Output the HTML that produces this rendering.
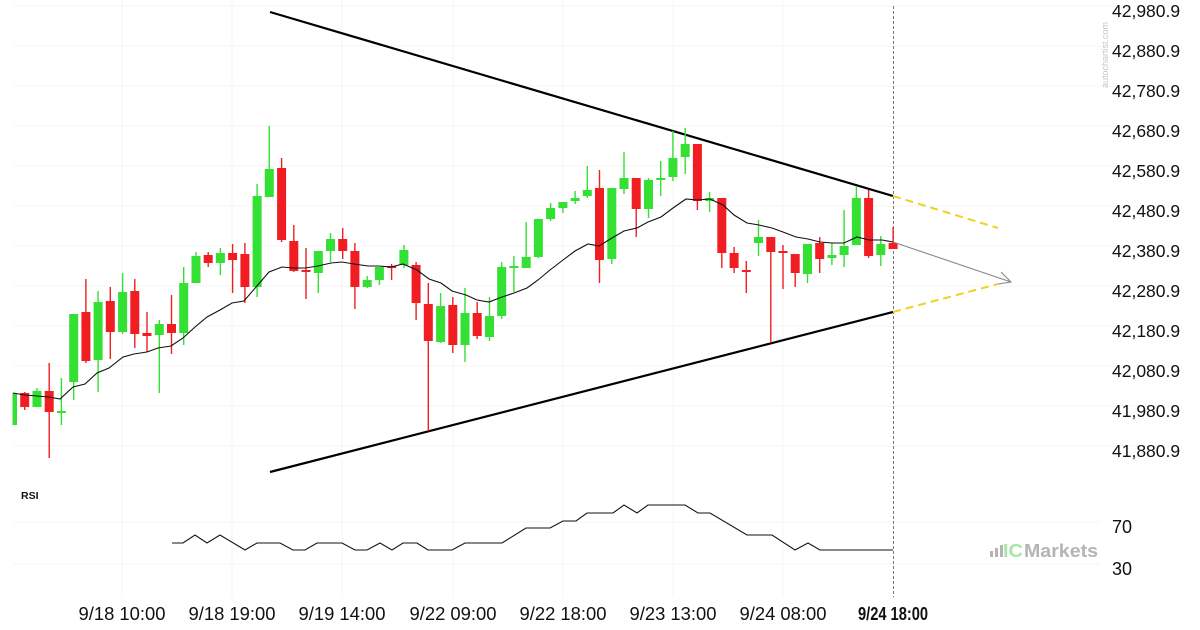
<!DOCTYPE html>
<html><head><meta charset="utf-8"><style>
html,body{margin:0;padding:0;background:#fff;}
svg{display:block;}
text{font-family:"Liberation Sans",Arial,sans-serif;}
</style></head><body>
<svg width="1200" height="630" viewBox="0 0 1200 630" xmlns="http://www.w3.org/2000/svg">
<defs><clipPath id="c"><rect x="12.5" y="0" width="1000" height="600"/></clipPath></defs>
<rect width="1200" height="630" fill="#fff"/>
<g stroke="#f4f4f4" stroke-width="1">
<path d="M13 6H1182M13 46H1182M13 86H1182M13 126H1182M13 166H1182M13 206H1182M13 246H1182M13 286H1182M13 326H1182M13 366H1182M13 406H1182M13 446H1182"/>
<path d="M13 522H1100M13 564H1100"/>
<path d="M122 0V597M232 0V597M342 0V597M453 0V597M563 0V597M673 0V597M783 0V597"/>
</g>
<g font-size="17.5" fill="#111">
<text x="1112" y="17">42,980.9</text>
<text x="1112" y="57">42,880.9</text>
<text x="1112" y="97">42,780.9</text>
<text x="1112" y="137">42,680.9</text>
<text x="1112" y="177">42,580.9</text>
<text x="1112" y="217">42,480.9</text>
<text x="1112" y="257">42,380.9</text>
<text x="1112" y="297">42,280.9</text>
<text x="1112" y="337">42,180.9</text>
<text x="1112" y="377">42,080.9</text>
<text x="1112" y="417">41,980.9</text>
<text x="1112" y="457">41,880.9</text>
</g>
<text transform="translate(1108,88) rotate(-90)" font-size="9.5" fill="#c6c6c6" textLength="66" lengthAdjust="spacingAndGlyphs">autochartist.com</text>
<g font-size="18.4" fill="#111" text-anchor="middle">
<text x="122" y="620" textLength="87" lengthAdjust="spacingAndGlyphs">9/18 10:00</text>
<text x="232" y="620" textLength="87" lengthAdjust="spacingAndGlyphs">9/18 19:00</text>
<text x="342" y="620" textLength="87" lengthAdjust="spacingAndGlyphs">9/19 14:00</text>
<text x="453" y="620" textLength="87" lengthAdjust="spacingAndGlyphs">9/22 09:00</text>
<text x="563" y="620" textLength="87" lengthAdjust="spacingAndGlyphs">9/22 18:00</text>
<text x="673" y="620" textLength="87" lengthAdjust="spacingAndGlyphs">9/23 13:00</text>
<text x="783" y="620" textLength="87" lengthAdjust="spacingAndGlyphs">9/24 08:00</text>
<text x="893" y="620" font-weight="bold" textLength="70" lengthAdjust="spacingAndGlyphs">9/24 18:00</text>
</g>
<text x="21" y="499" font-size="10.5" font-weight="bold" fill="#111">RSI</text>
<text x="1112" y="533" font-size="18" fill="#111">70</text>
<text x="1112" y="575" font-size="18" fill="#111">30</text>
<g fill="#b4b4b4">
<rect x="990" y="551" width="3" height="6"/>
<rect x="995" y="548" width="3" height="9"/>
<rect x="1000" y="545" width="3" height="12"/>
</g>
<text x="1003" y="557" font-size="18" font-weight="bold" fill="#a8e6a8" textLength="20" lengthAdjust="spacingAndGlyphs">IC</text>
<text x="1024" y="557" font-size="18" font-weight="bold" fill="#b4b4b4" textLength="74" lengthAdjust="spacingAndGlyphs">Markets</text>
<path d="M893.5 6V597" stroke="#777" stroke-width="1" stroke-dasharray="3,2"/>
<g clip-path="url(#c)">
<path d="M270 12L893 196" stroke="#000" stroke-width="2.2" fill="none"/>
<path d="M270 472L893 312" stroke="#000" stroke-width="2.2" fill="none"/>
<path d="M893 196L998 228M893 312L998 284" stroke="#f2d21b" stroke-width="2" stroke-dasharray="8,5" fill="none"/>
<g fill="#33e033" stroke="#33e033">
<path fill="none" stroke-width="1.4" d="M12.5 393V425M37 388V407M61.4 378V425M73.7 314V400M98.1 291V392M122.6 273V334M159.3 320V393M183.7 267V345M196 252V283M220.4 248V275M257.1 184V297M269.3 126V197M318.3 251V293M330.5 233V262M367.2 276V288M379.4 267V285M403.9 245V268M440.6 293V343M465 288V362M489.5 297V341M501.7 262V319M513.9 256V292M526.2 222V268M538.4 219V258M550.6 203V221M562.9 202V213M575.1 191V204M587.3 166V198M611.8 188V264M624 152V194M648.5 178V218M660.7 161V196M672.9 131V181M685.2 128V174M709.6 192V212M758.5 220V256M807.5 244V283M831.9 243V265M844.1 210V267M856.4 186V245M880.8 236V266"/>
<g stroke="none">
<rect x="8" y="393" width="9" height="32"/>
<rect x="32.5" y="391" width="9" height="16"/>
<rect x="56.9" y="411" width="9" height="2"/>
<rect x="69.2" y="314" width="9" height="68"/>
<rect x="93.6" y="302" width="9" height="58"/>
<rect x="118.1" y="292" width="9" height="40"/>
<rect x="154.8" y="324" width="9" height="11"/>
<rect x="179.2" y="283" width="9" height="50"/>
<rect x="191.5" y="256" width="9" height="27"/>
<rect x="215.9" y="253" width="9" height="10"/>
<rect x="252.6" y="196" width="9" height="91"/>
<rect x="264.8" y="169" width="9" height="28"/>
<rect x="313.8" y="251" width="9" height="22"/>
<rect x="326" y="239" width="9" height="12"/>
<rect x="362.7" y="280" width="9" height="7"/>
<rect x="374.9" y="267" width="9" height="13"/>
<rect x="399.4" y="250" width="9" height="15"/>
<rect x="436.1" y="306" width="9" height="36"/>
<rect x="460.5" y="313" width="9" height="32"/>
<rect x="485" y="316" width="9" height="21"/>
<rect x="497.2" y="267" width="9" height="49"/>
<rect x="509.4" y="266" width="9" height="2"/>
<rect x="521.7" y="257" width="9" height="11"/>
<rect x="533.9" y="219" width="9" height="38"/>
<rect x="546.1" y="208" width="9" height="11"/>
<rect x="558.4" y="202" width="9" height="6"/>
<rect x="570.6" y="198" width="9" height="3"/>
<rect x="582.8" y="190" width="9" height="6"/>
<rect x="607.3" y="188" width="9" height="71"/>
<rect x="619.5" y="178" width="9" height="11"/>
<rect x="644" y="180" width="9" height="29"/>
<rect x="656.2" y="178" width="9" height="2"/>
<rect x="668.4" y="158" width="9" height="19"/>
<rect x="680.7" y="144" width="9" height="13"/>
<rect x="705.1" y="198" width="9" height="3"/>
<rect x="754" y="237" width="9" height="6"/>
<rect x="803" y="244" width="9" height="30"/>
<rect x="827.4" y="255" width="9" height="3"/>
<rect x="839.6" y="246" width="9" height="9"/>
<rect x="851.9" y="198" width="9" height="47"/>
<rect x="876.3" y="244" width="9" height="11"/>
</g>
</g>
<g fill="#f01e23" stroke="#f01e23">
<path fill="none" stroke-width="1.4" d="M24.7 392V410M49.2 363V458M85.9 279V363M110.3 287V359M134.8 279V348M147 312V352M171.5 295V354M208.2 252V267M232.6 244V293M244.9 243V303M281.6 158V242M293.8 225V272M306 248V299M342.7 228V259M354.9 243V309M391.6 264V280M416.1 262V320M428.3 283V431M452.8 297V353M477.2 302V339M599.5 170V283M636.2 178V237M697.4 144V210M721.8 198V268M734.1 247V273M746.3 261V293M770.8 237V343M783 245V289M795.2 254V287M819.7 237V273M868.6 190V258M893.1 227V249"/>
<g stroke="none">
<rect x="20.2" y="393" width="9" height="14"/>
<rect x="44.7" y="391" width="9" height="21"/>
<rect x="81.4" y="312" width="9" height="49"/>
<rect x="105.8" y="301" width="9" height="31"/>
<rect x="130.3" y="291" width="9" height="43"/>
<rect x="142.5" y="333" width="9" height="3"/>
<rect x="167" y="324" width="9" height="9"/>
<rect x="203.7" y="255" width="9" height="8"/>
<rect x="228.1" y="253" width="9" height="7"/>
<rect x="240.4" y="254" width="9" height="33"/>
<rect x="277.1" y="168" width="9" height="72"/>
<rect x="289.3" y="241" width="9" height="30"/>
<rect x="301.5" y="270" width="9" height="2"/>
<rect x="338.2" y="239" width="9" height="12"/>
<rect x="350.4" y="251" width="9" height="36"/>
<rect x="387.1" y="266" width="9" height="2"/>
<rect x="411.6" y="265" width="9" height="38"/>
<rect x="423.8" y="304" width="9" height="37"/>
<rect x="448.3" y="305" width="9" height="40"/>
<rect x="472.7" y="313" width="9" height="23"/>
<rect x="595" y="188" width="9" height="72"/>
<rect x="631.7" y="178" width="9" height="31"/>
<rect x="692.9" y="144" width="9" height="57"/>
<rect x="717.3" y="198" width="9" height="55"/>
<rect x="729.6" y="253" width="9" height="15"/>
<rect x="741.8" y="270" width="9" height="2"/>
<rect x="766.3" y="237" width="9" height="15"/>
<rect x="778.5" y="251" width="9" height="2"/>
<rect x="790.7" y="254" width="9" height="19"/>
<rect x="815.2" y="243" width="9" height="16"/>
<rect x="864.1" y="198" width="9" height="58"/>
<rect x="888.6" y="243" width="9" height="6"/>
</g>
</g>
<polyline fill="none" stroke="#111" stroke-width="1.1" points="13,393 25,395 37,396 49,397 60,399 73,387 85,384 97,373 109,368 123,357 134,354 147,352 158,348 171,346 183,338 195,327 207,317 220,310 232,303 244,301 256,287 269,272 282,267 293,268 305,268 318,266 331,263 342,262 354,264 368,266 379,266 391,267 403,264 417,270 429,279 441,283 452,291 466,295 477,300 489,302 502,297 514,293 527,288 538,280 550,270 563,260 575,251 588,244 599,246 612,238 624,231 637,228 648,222 661,217 673,208 686,199 697,200 710,199 723,205 734,215 747,223 759,225 772,228 783,232 796,237 808,239 820,242 832,243 844,243 857,237 869,240 882,240 893,242"/>
<path d="M893 242L1011 282M1001 272L1011 282L998 284" fill="none" stroke="#888" stroke-width="1.1"/>
</g>
<polyline fill="none" stroke="#111" stroke-width="1.1" points="172,543 183,543 195,535 207,543 220,535 245,550 257,543 280,543 293,550 305,550 317,543 342,543 355,550 367,550 380,543 392,550 403,543 417,543 428,550 452,550 465,543 502,543 526,528 550,528 563,521 576,521 587,513 613,513 624,505 637,513 648,505 685,505 698,513 710,513 747,535 772,535 795,550 808,543 820,550 893,550"/>
</svg>
</body></html>
